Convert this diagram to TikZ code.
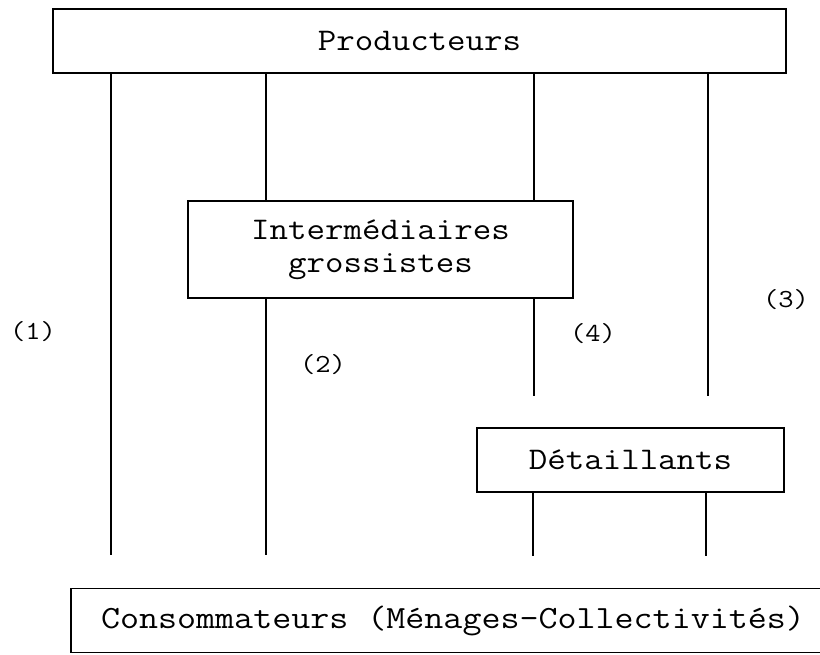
\documentclass[tikz,border=0pt]{standalone}
\usepackage{fontspec}
\setmonofont[FakeStretch=1.14]{Latin Modern Mono}
\begin{document}
\begin{tikzpicture}[x=1pt,y=-1pt,
  box/.style={draw,line width=1.6pt,inner sep=0pt,font=\fontsize{31.5}{33}\selectfont\ttfamily,align=center},
  link/.style={line width=1.3pt},
  tag/.style={font=\fontsize{26}{28}\selectfont\ttfamily,inner sep=0pt}]
  \useasboundingbox (0,0) rectangle (820,654);
  % boxes
  \node[box,minimum width=733pt,minimum height=64pt] (prod) at (419.5,41) {Producteurs};
  \node[box,minimum width=385pt,minimum height=97pt] (inter) at (380.5,249.5) {Intermédiaires\\grossistes};
  \node[box,minimum width=307pt,minimum height=64pt] (det) at (630.5,460) {Détaillants};
  \begin{scope}
    \clip (0,0) rectangle (820,654);
    \node[box,font=\fontsize{32.4}{34}\selectfont\ttfamily,minimum width=764pt,minimum height=64pt] (cons) at (453,620.5) {Consommateurs (Ménages-Collectivités)};
  \end{scope}
  % free ends of the channels
  \coordinate (e1) at (111,555);
  \coordinate (e2) at (266,555);
  \coordinate (e4) at (534,396);
  \coordinate (e3) at (708,396);
  \coordinate (f4) at (533,556);
  \coordinate (f3) at (706,556);
  % channels
  \draw[link] (prod.south -| e1) -- (e1);
  \draw[link] (prod.south -| e2) -- (inter.north -| e2);
  \draw[link] (inter.south -| e2) -- (e2);
  \draw[link] (prod.south -| e4) -- (inter.north -| e4);
  \draw[link] (inter.south -| e4) -- (e4);
  \draw[link] (prod.south -| e3) -- (e3);
  \draw[link] (det.south -| f4) -- (f4);
  \draw[link] (det.south -| f3) -- (f3);
  % channel numbers
  \node[tag] (t1) at (33,332) {(1)};
  \node[tag] (t2) at (323,365) {(2)};
  \node[tag] (t4) at (593,334) {(4)};
  \node[tag] (t3) at (786,300) {(3)};
\end{tikzpicture}
\end{document}
